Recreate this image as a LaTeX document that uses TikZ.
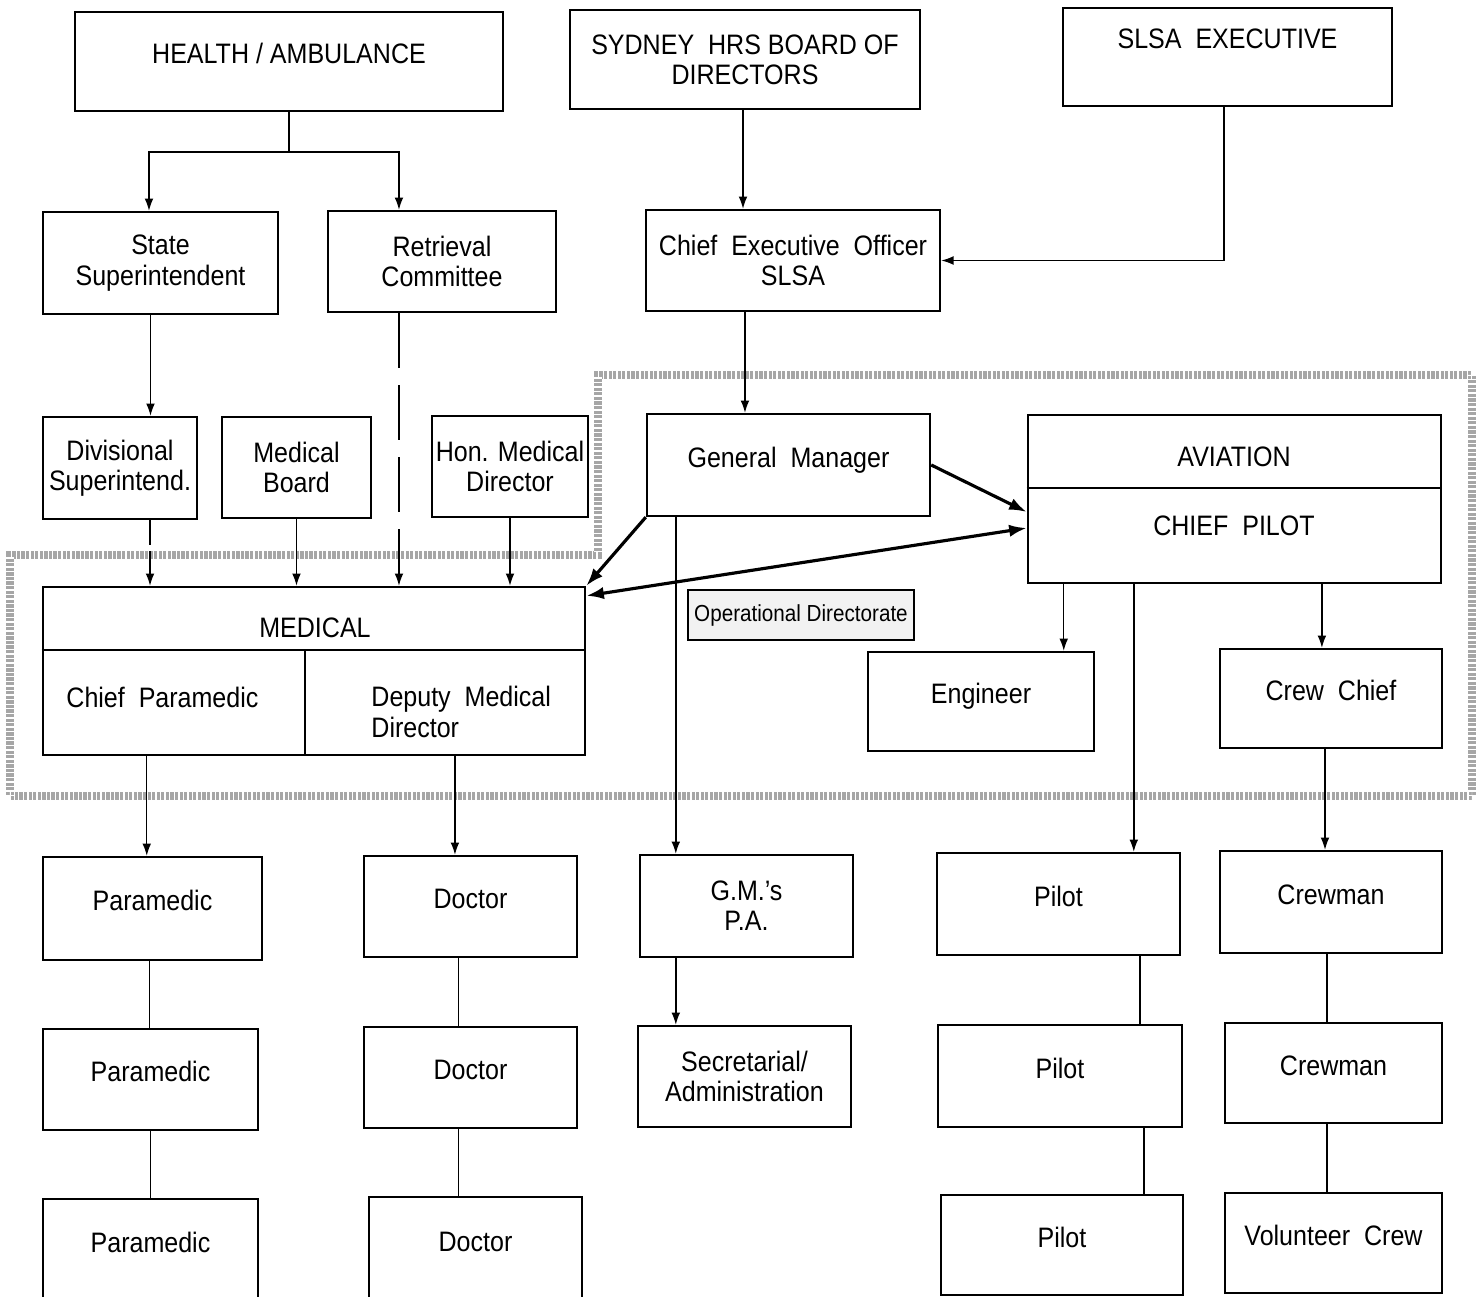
\documentclass[tikz,border=0pt]{standalone}
\usepackage{fontspec}
\setmainfont{Liberation Sans}[FakeStretch=0.89]
\usetikzlibrary{arrows.meta}

\begin{document}
\begin{tikzpicture}[x=0.01cm, y=-0.01cm,
    font=\fontsize{8}{8.6}\selectfont,
    box/.style={draw, line width=0.65pt, align=center, inner sep=1pt},
    unit/.style={box, text height=0.2cm, text depth=0.16cm},
    link/.style={line width=0.4pt, -{Latex[length=3.5pt,width=2.5pt]}},
    wire/.style={line width=0.4pt},
    heavy/.style={line width=0.9pt, -{Latex[length=5pt,width=3.5pt]}}]
    \useasboundingbox (0,0) rectangle (1481,1297);
    \draw[black!35, line width=0.075cm] (598,375) -- (1472,375) -- (1472,796) -- (10,796) -- (10,555) -- (598,555) -- cycle;
    \draw[white, line width=0.075cm, dash pattern=on 0.4pt off 0.9pt] (598,375) -- (1472,375) -- (1472,796) -- (10,796) -- (10,555) -- (598,555) -- cycle;

    \node[unit, minimum width=4.28cm, minimum height=0.99cm] (health) at (289,61.5) {HEALTH / AMBULANCE};
    \node[box, minimum width=3.5cm, minimum height=0.99cm] (sydney) at (745,59.5) {SYDNEY\ \ HRS BOARD OF\\DIRECTORS};
    \node[unit, text depth=0.36cm, minimum width=3.29cm, minimum height=0.98cm] (slsaexec) at (1227.5,57) {SLSA\ \ EXECUTIVE};

    \node[box, minimum width=2.35cm, minimum height=1.02cm] (state) at (160.5,263) {State\\Superintendent};
    \node[box, minimum width=2.28cm, minimum height=1.01cm] (retrieval) at (442,261.5) {Retrieval\\Committee};
    \node[box, minimum width=2.94cm, minimum height=1.01cm] (ceo) at (793,260.5) {Chief\ \ Executive\ \ Officer\\SLSA};

    \node[box, minimum width=1.54cm, minimum height=1.02cm] (divsup) at (120,468) {Divisional\\Superintend.};
    \node[box, minimum width=1.49cm, minimum height=1.01cm] (medboard) at (296.5,467.5) {Medical\\Board};
    \node[box, minimum width=1.5cm, minimum height=1.01cm] (honmed) at (510,466.5) {Hon. Medical\\Director};
    \node[unit, minimum width=2.83cm, minimum height=1.02cm] (gm) at (788.5,465) {General\ \ Manager};

    \node[box, minimum width=5.42cm, minimum height=1.68cm] (medical) at (314,671) {};
    \draw[line width=0.65pt] ([yshift=-0.64cm]medical.north west) -- ([yshift=-0.64cm]medical.north east);
    \draw[line width=0.5pt] ([xshift=2.63cm,yshift=-0.64cm]medical.north west) -- ([xshift=2.63cm]medical.south west);
    \node (medtitle) at (315,628) {MEDICAL};
    \node[anchor=west] (chiefpara) at (54,697) {Chief\ \ Paramedic};
    \node[anchor=west, align=left] (deputy) at (359,712) {Deputy\ \ Medical\\Director};

    \node[box, minimum width=4.13cm, minimum height=1.68cm] (aviation) at (1234.5,499) {};
    \draw[line width=0.65pt] ([yshift=-0.74cm]aviation.north west) -- ([yshift=-0.74cm]aviation.north east);
    \node (avtitle) at (1234,457) {AVIATION};
    \node (chiefpilot) at (1234,526) {CHIEF\ \ PILOT};

    \node[draw, line width=0.5pt, fill=black!5, minimum width=2.26cm, minimum height=0.5cm, inner sep=1pt, font=\fontsize{6.6}{8}\selectfont] (opdir) at (801,615) {Operational Directorate};
    \node[unit, minimum width=2.26cm, minimum height=0.99cm] (engineer) at (981,701.5) {Engineer};
    \node[unit, minimum width=2.22cm, minimum height=0.99cm] (crewchief) at (1331,698.5) {Crew\ \ Chief};

    \node[unit, minimum width=2.19cm, minimum height=1.03cm] (para1) at (152.5,908.5) {Paramedic};
    \node[unit, minimum width=2.13cm, minimum height=1.01cm] (doc1) at (470.5,906.5) {Doctor};
    \node[box, minimum width=2.13cm, minimum height=1.02cm] (gmpa) at (746.5,906) {G.M.'s\\P.A.};
    \node[unit, minimum width=2.43cm, minimum height=1.02cm] (pilot1) at (1058.5,904) {Pilot};
    \node[unit, minimum width=2.22cm, minimum height=1.02cm] (crew1) at (1331,902) {Crewman};

    \node[unit, minimum width=2.15cm, minimum height=1.01cm] (para2) at (150.5,1079.5) {Paramedic};
    \node[unit, minimum width=2.13cm, minimum height=1.01cm] (doc2) at (470.5,1077.5) {Doctor};
    \node[box, minimum width=2.13cm, minimum height=1.01cm] (secretarial) at (744.5,1076.5) {Secretarial/\\Administration};
    \node[unit, minimum width=2.44cm, minimum height=1.02cm] (pilot2) at (1060,1076) {Pilot};
    \node[unit, minimum width=2.17cm, minimum height=1cm] (crew2) at (1333.5,1073) {Crewman};

    \node[unit, minimum width=2.15cm, minimum height=1.03cm] (para3) at (150.5,1250.5) {Paramedic};
    \node[unit, minimum width=2.13cm, minimum height=1.05cm] (doc3) at (475.5,1249.5) {Doctor};
    \node[unit, minimum width=2.42cm, minimum height=1cm] (pilot3) at (1062,1245) {Pilot};
    \node[unit, minimum width=2.17cm, minimum height=1cm] (volcrew) at (1333.5,1243) {Volunteer\ \ Crew};

    \draw[wire] (health.south) -- ++(0,40) coordinate (hsplit);
    \draw[link] (hsplit) -| ([xshift=-0.115cm]state.north);
    \draw[link] (hsplit) -| ([xshift=-0.43cm]retrieval.north);
    \draw[link] ([xshift=-0.02cm]sydney.south) -- ([xshift=-0.02cm]sydney.south |- ceo.north);
    \draw[link] ([xshift=-0.035cm]slsaexec.south) |- (ceo.east);

    \draw[link] ([xshift=-0.1cm]state.south) -- ([xshift=-0.1cm]state.south |- divsup.north);
    \draw[link, dash pattern=on 0.55cm off 0.17cm] ([xshift=-0.43cm]retrieval.south) -- ([xshift=-0.43cm]retrieval.south |- medical.north);
    \draw[link] ([xshift=-0.48cm]ceo.south) -- ([xshift=-0.48cm]ceo.south |- gm.north);

    \draw[link, dash pattern=on 0.25cm off 0.06cm] ([xshift=0.3cm]divsup.south) -- ([xshift=0.3cm]divsup.south |- medical.north);
    \draw[link] (medboard.south) -- (medboard.south |- medical.north);
    \draw[link] (honmed.south) -- (honmed.south |- medical.north);

    \draw[heavy] (gm.south west) -- (medical.north east);
    \draw[heavy] (gm.east) -- ([yshift=-0.13cm]aviation.west);
    \draw[heavy, {Latex[length=5pt,width=3.5pt]}-{Latex[length=5pt,width=3.5pt]}] ([yshift=-0.1cm]medical.north east) -- ([yshift=-0.29cm]aviation.west);
    \draw[link] ([xshift=0.3cm]gm.south west) -- ([xshift=0.3cm]gm.south west |- gmpa.north);

    \draw[link] ([xshift=0.37cm]aviation.south west) -- ([xshift=0.37cm]aviation.south west |- engineer.north);
    \draw[link] ([xshift=1.07cm]aviation.south west) -- ([xshift=1.07cm]aviation.south west |- pilot1.north);
    \draw[link] ([xshift=2.95cm]aviation.south west) -- ([xshift=2.95cm]aviation.south west |- crewchief.north);
    \draw[link] ([xshift=-0.06cm]crewchief.south) -- ([xshift=-0.06cm]crewchief.south |- crew1.north);

    \draw[link] ([xshift=1.05cm]medical.south west) -- ([xshift=1.05cm]medical.south west |- para1.north);
    \draw[link] ([xshift=4.13cm]medical.south west) -- ([xshift=4.13cm]medical.south west |- doc1.north);
    \draw[link] ([xshift=0.37cm]gmpa.south west) -- ([xshift=0.37cm]gmpa.south west |- secretarial.north);

    \draw[wire] ([xshift=-0.03cm]para1.south) -- ([xshift=-0.03cm]para1.south |- para2.north);
    \draw[wire] (para2.south) -- (para2.south |- para3.north);
    \draw[wire] ([xshift=-0.12cm]doc1.south) -- ([xshift=-0.12cm]doc1.south |- doc2.north);
    \draw[wire] ([xshift=-0.12cm]doc2.south) -- ([xshift=-0.12cm]doc2.south |- doc3.north);
    \draw[wire] ([xshift=-0.41cm]pilot1.south east) -- ([xshift=-0.41cm]pilot1.south east |- pilot2.north);
    \draw[wire] ([xshift=-0.39cm]pilot2.south east) -- ([xshift=-0.39cm]pilot2.south east |- pilot3.north);
    \draw[wire] ([xshift=-0.04cm]crew1.south) -- ([xshift=-0.04cm]crew1.south |- crew2.north);
    \draw[wire] ([xshift=-0.065cm]crew2.south) -- ([xshift=-0.065cm]crew2.south |- volcrew.north);
\end{tikzpicture}
\end{document}
